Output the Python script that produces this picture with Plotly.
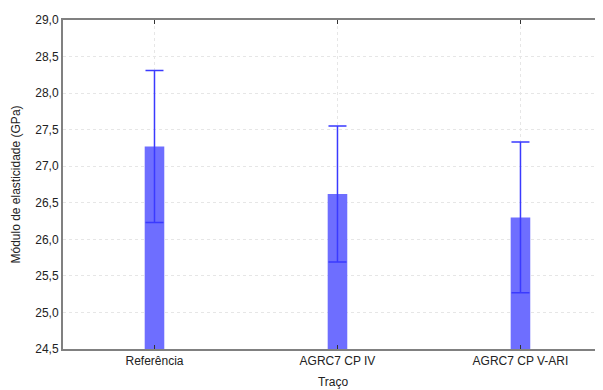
import plotly.graph_objects as go

categories = ["Referência", "AGRC7 CP IV", "AGRC7 CP V-ARI"]
means = [27.27, 26.62, 26.30]
errors = [1.04, 0.93, 1.03]
y_ticks = [24.5, 25.0, 25.5, 26.0, 26.5, 27.0, 27.5, 28.0, 28.5, 29.0]

fig = go.Figure()
fig.add_trace(go.Bar(
    x=[0, 1, 2], y=means, width=0.107,
    marker=dict(color="#6e6eff", line=dict(width=0)),
    error_y=dict(type="data", array=errors, visible=True,
                 color="#3a3aff", thickness=1.5, width=9),
))

fig.update_layout(
    width=595, height=382,
    margin=dict(l=55, r=0, t=12, b=41, autoexpand=False),
    paper_bgcolor="white", plot_bgcolor="white",
    separators=",.",
    showlegend=False,
    font=dict(family="Liberation Sans, Arial, sans-serif", color="#222222"),
    xaxis=dict(
        range=[-0.5, 2.451],
        tickmode="array", tickvals=[0, 1, 2], ticktext=categories,
        tickfont=dict(size=12),
        showline=True, linecolor="#808080", linewidth=2, mirror="ticks",
        ticks="inside", ticklen=4, tickcolor="#333333", tickwidth=1,
        showgrid=True, gridcolor="#e6e6e6", griddash="dot", gridwidth=1,
        zeroline=False, automargin=False,
        title=dict(text="Traço", font=dict(size=12), standoff=10),
    ),
    yaxis=dict(
        range=[24.5, 29.0],
        tickmode="array", tickvals=y_ticks, tickformat=".1f",
        tickfont=dict(size=12),
        showline=True, linecolor="#808080", linewidth=2,
        ticks="", showgrid=True, gridcolor="#e6e6e6", griddash="dot", gridwidth=1,
        zeroline=False, automargin=False,
        title=dict(text="Módulo de elasticidade (GPa)", font=dict(size=12), standoff=12),
    ),
)

fig.write_html("out.html")
